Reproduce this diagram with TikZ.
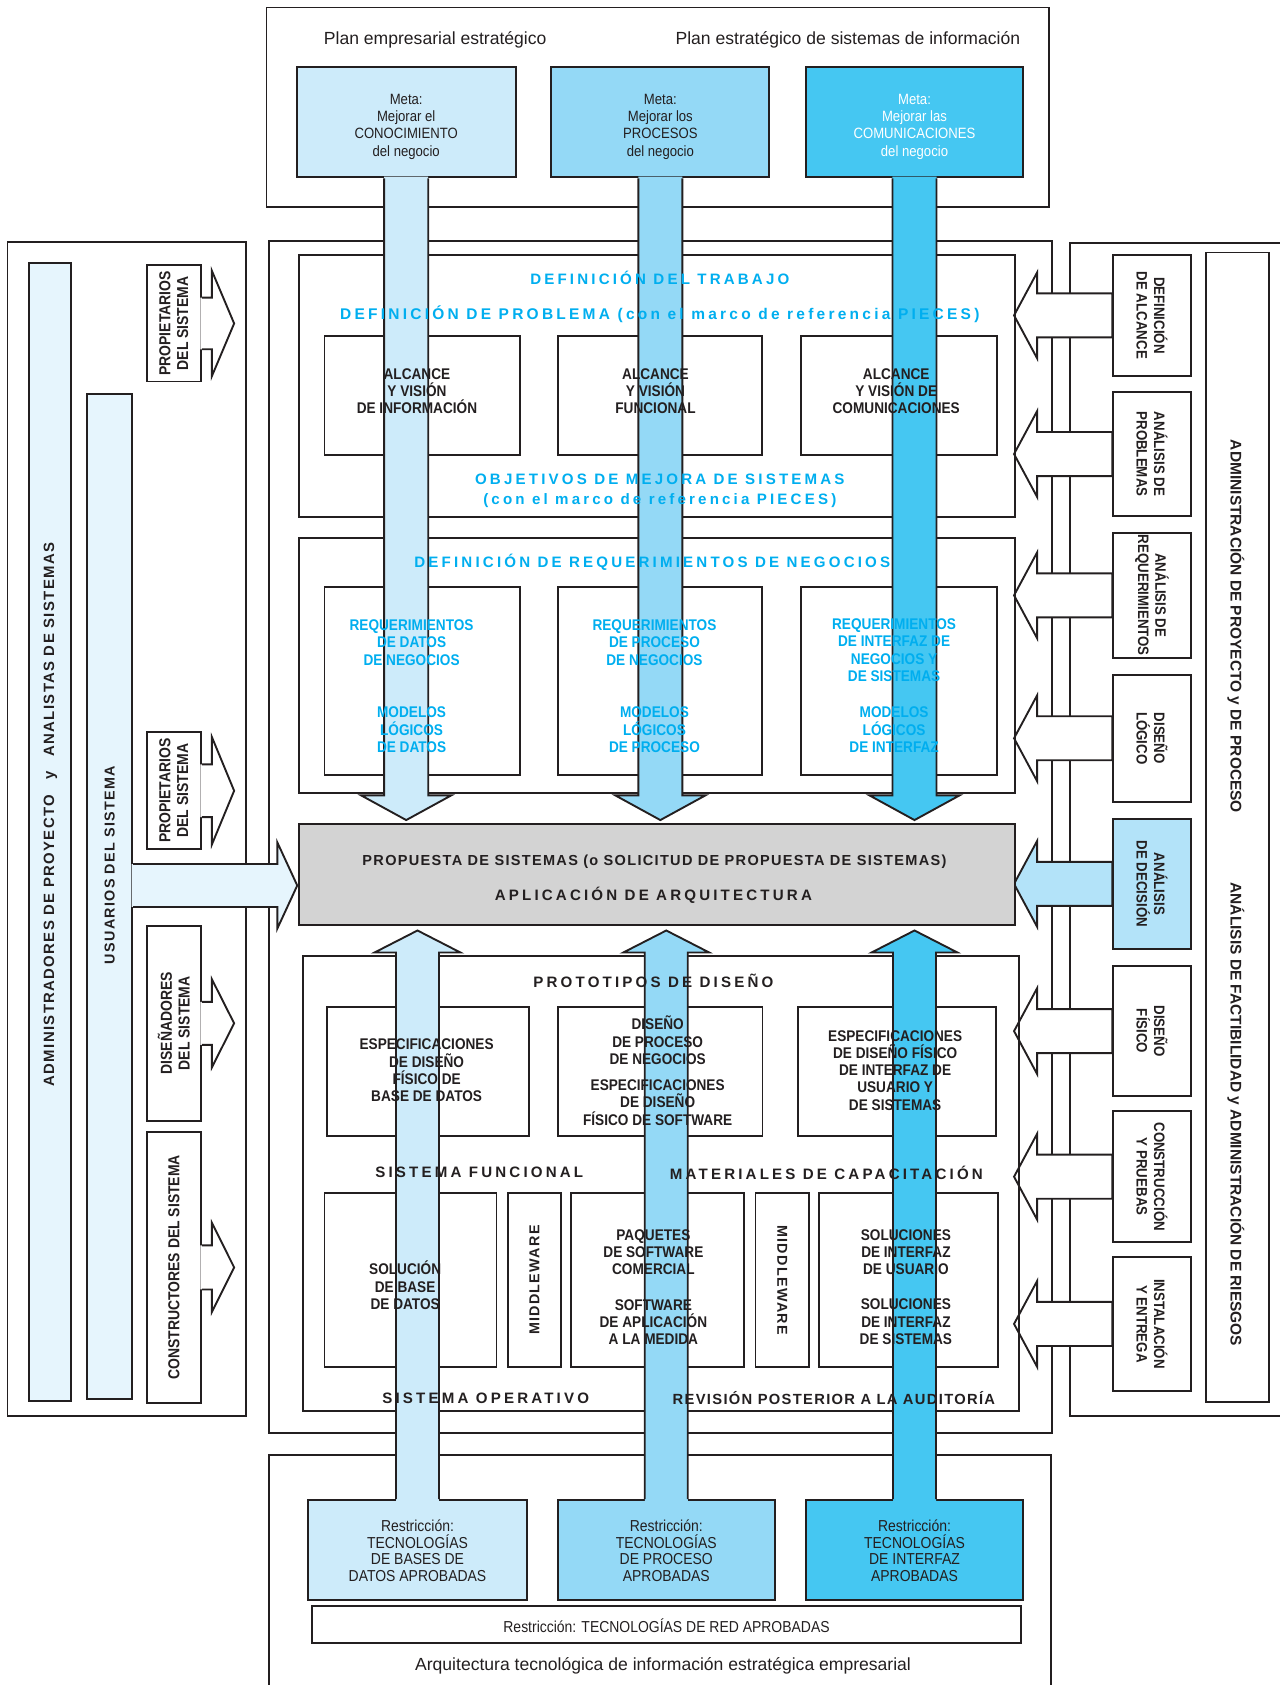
\documentclass[tikz,border=0pt]{standalone}
\usepackage{fontspec}
\setmainfont{Liberation Sans}
\newfontfamily\condfont[FakeStretch=0.88]{Liberation Sans}
\newfontfamily\trackfont[LetterSpace=21]{Liberation Sans}
\newfontfamily\loosefont[LetterSpace=9]{Liberation Sans}
\usetikzlibrary{calc,fit}
\definecolor{GoalLight}{HTML}{CDEBFA}
\definecolor{GoalMid}{HTML}{94D9F6}
\definecolor{GoalDark}{HTML}{45C7F2}
\definecolor{PiecesCyan}{HTML}{00AEEF}
\definecolor{BarTint}{HTML}{E6F5FD}
\definecolor{DecisionTint}{HTML}{B3E3F9}
\definecolor{ProposalGray}{HTML}{D3D3D3}
\definecolor{InkBlack}{HTML}{231F20}

\begin{document}
\begin{tikzpicture}[
    x=0.02cm, y=-0.02cm,
    line width=1pt,
    color=InkBlack,
    frame/.style={draw=InkBlack, line width=1pt, inner sep=0pt},
    plaintxt/.style={font=\fontsize{9.3}{11}\selectfont},
    goaltxt/.style={align=center, font=\condfont\fontsize{7.9}{9.1}\selectfont},
    limittxt/.style={align=center, font=\condfont\fontsize{8.4}{8.9}\selectfont},
    boxtxt/.style={align=center, font=\condfont\bfseries\fontsize{8.2}{9.1}\selectfont},
    reqtxt/.style={boxtxt, text=PiecesCyan},
    tracked/.style={font=\trackfont\bfseries\fontsize{8}{9.5}\selectfont},
    trackedcyan/.style={tracked, text=PiecesCyan},
    loosetitle/.style={font=\loosefont\bfseries\fontsize{7.8}{9.5}\selectfont},
    sidetxt/.style={align=center, font=\condfont\bfseries\fontsize{8}{9.2}\selectfont},
    mgmttxt/.style={font=\bfseries\fontsize{8.2}{9.5}\selectfont},
    loosetxt/.style={font=\loosefont\bfseries\fontsize{7.6}{9}\selectfont}
]
\useasboundingbox (0,0) rectangle (1191,1568);

% strategic plans and goals
\node[frame, fit={(248,7) (976,193)}] (plan) {};
\node[plaintxt] (bizplan) at (405,37) {Plan empresarial estratégico};
\node[plaintxt] (isplan) at (789,37) {Plan estratégico de sistemas de información};
\node[frame, fill=GoalLight, fit={(276,62) (480,165)}] (goal1) {};
\node[frame, fill=GoalMid, fit={(513,62) (716,165)}] (goal2) {};
\node[frame, fill=GoalDark, fit={(750,62) (952,165)}] (goal3) {};
\node[goaltxt] (goal1text) at ($(goal1)+(0,4.5)$) {Meta:\\Mejorar el\\CONOCIMIENTO\\del negocio};
\node[goaltxt] (goal2text) at ($(goal2)+(0,4.5)$) {Meta:\\Mejorar los\\PROCESOS\\del negocio};
\node[goaltxt, text=white] (goal3text) at ($(goal3)+(0,4.5)$) {Meta:\\Mejorar las\\COMUNICACIONES\\del negocio};

% outer frames
\node[frame, fit={(250,224) (978.6,1333.6)}] (work) {};
\node[frame, fit={(7,225.5) (229,1317.6)}] (people) {};
\draw (1200,225.8) -| (995.6,1317.6) -- (1200,1317.6);
\draw (250,1580) |- (978,1353.9) -- (978,1580);

% technology constraints
\node[frame, fill=GoalLight, fit={(287,1396) (490,1489)}] (limit1) {};
\node[frame, fill=GoalMid, fit={(519,1396) (721,1489)}] (limit2) {};
\node[frame, fill=GoalDark, fit={(750,1396) (952,1489)}] (limit3) {};
\node[limittxt] (limit1text) at ($(limit1)+(0,0.5)$) {Restricción:\\TECNOLOGÍAS\\DE BASES DE\\DATOS APROBADAS};
\node[limittxt] (limit2text) at ($(limit2)+(0,0.5)$) {Restricción:\\TECNOLOGÍAS\\DE PROCESO\\APROBADAS};
\node[limittxt] (limit3text) at ($(limit3)+(0,0.5)$) {Restricción:\\TECNOLOGÍAS\\DE INTERFAZ\\APROBADAS};
\node[frame, fit={(290,1494.5) (950.5,1529)}] (network) {};
\node[limittxt] (networktext) at ($(network)+(0,1)$) {Restricción: TECNOLOGÍAS DE RED APROBADAS};
\node[plaintxt] (techarch) at (617,1550) {Arquitectura tecnológica de información estratégica empresarial};

% people on the left
\node[frame, fill=BarTint, fit={(27.3,245) (65.8,1304)}] (leaders) {};
\node[loosetxt, font=\loosefont\bfseries\fontsize{7.9}{9}\selectfont, rotate=90] (leaderstext) at (47,758)
    {ADMINISTRADORES DE PROYECTO\hspace{8pt}y\hspace{8pt}ANALISTAS DE SISTEMAS};
\node[frame, fill=BarTint, fit={(81.3,367) (123,1302)}] (users) {};

\foreach \n/\ya/\yb/\s/\h/\lbl in {
    owners1/247/355/24/49/{PROPIETARIOS\\DEL SISTEMA},
    owners2/681.4/790.3/24.5/50/{PROPIETARIOS\\DEL SISTEMA},
    designers/861.7/1042.8/20/41/{DISEÑADORES\\DEL SISTEMA},
    builders/1053/1305.8/20.5/41.5/{CONSTRUCTORES DEL SISTEMA}} {
    \node[frame, fill=white, fit={(136.5,\ya) (187,\yb)}] (\n) {};
    \node[sidetxt, font=\condfont\bfseries\fontsize{8.4}{9.4}\selectfont, rotate=90] (\n text) at (\n) {\lbl};
    \fill[white] ($(\n.east)+(-1.5,-\s)$) -- ($(\n.east)+(9.3,-\s)$) -- ($(\n.east)+(9.3,-\h)$) -- ($(\n.east)+(30,0)$)
        -- ($(\n.east)+(9.3,\h)$) -- ($(\n.east)+(9.3,\s)$) -- ($(\n.east)+(-1.5,\s)$) -- cycle;
    \draw ($(\n.east)+(0,-\s)$) -- ($(\n.east)+(9.3,-\s)$) -- ($(\n.east)+(9.3,-\h)$) -- ($(\n.east)+(30,0)$)
        -- ($(\n.east)+(9.3,\h)$) -- ($(\n.east)+(9.3,\s)$) -- ($(\n.east)+(0,\s)$);
}

% management on the right
\node[frame, fit={(1122,235) (1180.5,1305)}] (mgmt) {};
\node[mgmttxt, rotate=-90] (mgmt1) at (1150,583) {ADMINISTRACIÓN DE PROYECTO y DE PROCESO};
\node[mgmttxt, rotate=-90] (mgmt2) at (1150,1037) {ANÁLISIS DE FACTIBILIDAD y ADMINISTRACIÓN DE RIESGOS};

\foreach \n/\ya/\yb/\tint/\lbl in {
    scopedef/237/350/white/{DEFINICIÓN\\DE ALCANCE},
    problems/365/480/white/{ANÁLISIS DE\\PROBLEMAS},
    reqdef/496/612/white/{ANÁLISIS DE\\REQUERIMIENTOS},
    logical/628/746/white/{DISEÑO\\LÓGICO},
    decision/762/883/DecisionTint/{ANÁLISIS\\DE DECISIÓN},
    physical/899/1020/white/{DISEÑO\\FÍSICO},
    building/1034/1156/white/{CONSTRUCCIÓN\\Y PRUEBAS},
    install/1170/1294/white/{INSTALACIÓN\\Y ENTREGA}} {
    \node[frame, fill=\tint, fit={(1036,\ya) (1108,\yb)}] (\n) {};
    \node[sidetxt, rotate=-90] (\n text) at (\n) {\lbl};
    \draw[fill=\tint] ($(\n.west)+(0,-20.5)$) -- ($(\n.west)+(-70,-20.5)$) -- ($(\n.west)+(-70,-40)$) -- ($(\n.west)+(-91.5,0)$)
        -- ($(\n.west)+(-70,40)$) -- ($(\n.west)+(-70,20.5)$) -- ($(\n.west)+(0,20.5)$) -- cycle;
}

% middle frames
\node[frame, fit={(278,237) (944.5,481)}] (scope) {};
\node[frame, fit={(302,313) (484,423)}] (vision1) {};
\node[frame, fit={(519,313) (709,423)}] (vision2) {};
\node[frame, fit={(745,313) (928,423)}] (vision3) {};
\node[frame, fit={(278,501) (944.5,738)}] (reqs) {};
\node[frame, fit={(302,546) (484,721)}] (req1) {};
\node[frame, fit={(519,546) (709,721)}] (req2) {};
\node[frame, fit={(745,546) (928,721)}] (req3) {};
\node[frame, fit={(282,890) (948,1313)}] (proto) {};
\node[frame, fit={(304,937) (492,1057)}] (spec1) {};
\node[frame, fit={(519,937) (709.5,1057)}] (spec2) {};
\node[frame, fit={(742.5,937) (927,1057)}] (spec3) {};
\node[frame, fit={(302,1110.5) (462,1272)}] (build1) {};
\node[frame, fit={(472.5,1110.5) (522,1272)}] (mware1) {};
\node[frame, fit={(531.5,1110.5) (692.5,1272)}] (build2) {};
\node[frame, fit={(703,1110.5) (753,1272)}] (mware2) {};
\node[frame, fit={(762.5,1110.5) (928.5,1272)}] (build3) {};

\node[frame, fill=ProposalGray, fit={(278,767) (944.5,861)}] (prop) {};
\node[loosetitle, font=\loosefont\bfseries\fontsize{7.7}{9}\selectfont] (proptitle) at (609,802)
    {PROPUESTA DE SISTEMAS (o SOLICITUD DE PROPUESTA DE SISTEMAS)};
\node[tracked] (archtitle) at (608,833) {APLICACIÓN DE ARQUITECTURA};

% users feed the proposal
\coordinate (usertip) at ($(prop.west)+(0,10)$);
\coordinate (userbase) at (users.east |- usertip);
\fill[BarTint] ($(userbase)+(-1.5,-20)$) -- ($(usertip)+(-19,-20)$) -- ($(usertip)+(-19,-40)$) -- ($(usertip)+(-0.5,0)$)
    -- ($(usertip)+(-19,40)$) -- ($(usertip)+(-19,20)$) -- ($(userbase)+(-1.5,20)$) -- cycle;
\draw ($(userbase)+(0,-20)$) -- ($(usertip)+(-19,-20)$) -- ($(usertip)+(-19,-40)$) -- ($(usertip)+(-0.5,0)$)
    -- ($(usertip)+(-19,40)$) -- ($(usertip)+(-19,20)$) -- ($(userbase)+(0,20)$);
\node[loosetxt, rotate=90] (userstext) at (102,805) {USUARIOS DEL SISTEMA};

% goal stems down to the proposal
\foreach \g/\c in {goal1/GoalLight, goal2/GoalMid, goal3/GoalDark} {
    \coordinate (\g foot) at (\g.south |- prop.north);
    \fill[\c] ($(\g.south)+(-20.5,-1.5)$) -- ($(\g foot)+(-20.5,-26)$) -- ($(\g foot)+(-42,-26)$) -- ($(\g foot)+(0,-3)$)
        -- ($(\g foot)+(42,-26)$) -- ($(\g foot)+(20.5,-26)$) -- ($(\g.south)+(20.5,-1.5)$) -- cycle;
    \draw ($(\g.south)+(-20.5,0)$) -- ($(\g foot)+(-20.5,-26)$) -- ($(\g foot)+(-42,-26)$) -- ($(\g foot)+(0,-3)$)
        -- ($(\g foot)+(42,-26)$) -- ($(\g foot)+(20.5,-26)$) -- ($(\g.south)+(20.5,0)$);
}
% constraint stems up to the proposal
\foreach \t/\c in {limit1/GoalLight, limit2/GoalMid, limit3/GoalDark} {
    \coordinate (\t head) at (\t.north |- prop.south);
    \fill[\c] ($(\t.north)+(-20,1.5)$) -- ($(\t head)+(-20,24.5)$) -- ($(\t head)+(-40,24.5)$) -- ($(\t head)+(0,4)$)
        -- ($(\t head)+(40,24.5)$) -- ($(\t head)+(20,24.5)$) -- ($(\t.north)+(20,1.5)$) -- cycle;
    \draw ($(\t.north)+(-20,0)$) -- ($(\t head)+(-20,24.5)$) -- ($(\t head)+(-40,24.5)$) -- ($(\t head)+(0,4)$)
        -- ($(\t head)+(40,24.5)$) -- ($(\t head)+(20,24.5)$) -- ($(\t.north)+(20,0)$);
}

% texts over the stems
\node[trackedcyan] (worktitle) at (614,259) {DEFINICIÓN DEL TRABAJO};
\node[trackedcyan, font=\trackfont\bfseries\fontsize{8.2}{9.5}\selectfont] (probtitle) at (614,292) {DEFINICIÓN DE PROBLEMA (con el marco de referencia PIECES)};
\node[boxtxt] (vision1text) at (388,364) {ALCANCE\\Y VISIÓN\\DE INFORMACIÓN};
\node[boxtxt] (vision2text) at (610,364) {ALCANCE\\Y VISIÓN\\FUNCIONAL};
\node[boxtxt] (vision3text) at (834,364) {ALCANCE\\Y VISIÓN DE\\COMUNICACIONES};
\node[trackedcyan] (aimtitle) at (614,446) {OBJETIVOS DE MEJORA DE SISTEMAS};
\node[trackedcyan] (aimnote) at (614,466) {(con el marco de referencia PIECES)};

\node[trackedcyan] (reqtitle) at (607,523) {DEFINICIÓN DE REQUERIMIENTOS DE NEGOCIOS};
\node[reqtxt] (req1a) at (383,598) {REQUERIMIENTOS\\DE DATOS\\DE NEGOCIOS};
\node[reqtxt] (req1b) at (383,679) {MODELOS\\LÓGICOS\\DE DATOS};
\node[reqtxt] (req2a) at (609,598) {REQUERIMIENTOS\\DE PROCESO\\DE NEGOCIOS};
\node[reqtxt] (req2b) at (609,679) {MODELOS\\LÓGICOS\\DE PROCESO};
\node[reqtxt] (req3a) at (832,605) {REQUERIMIENTOS\\DE INTERFAZ DE\\NEGOCIOS Y\\DE SISTEMAS};
\node[reqtxt] (req3b) at (832,679) {MODELOS\\LÓGICOS\\DE INTERFAZ};

\node[tracked] (prototitle) at (608,913) {PROTOTIPOS DE DISEÑO};
\node[boxtxt] (spec1text) at (397,996) {ESPECIFICACIONES\\DE DISEÑO\\FÍSICO DE\\BASE DE DATOS};
\node[boxtxt] (spec2a) at (612,968) {DISEÑO\\DE PROCESO\\DE NEGOCIOS};
\node[boxtxt] (spec2b) at (612,1026) {ESPECIFICACIONES\\DE DISEÑO\\FÍSICO DE SOFTWARE};
\node[boxtxt] (spec3text) at (833,996) {ESPECIFICACIONES\\DE DISEÑO FÍSICO\\DE INTERFAZ DE\\USUARIO Y\\DE SISTEMAS};
\node[tracked] (functitle) at (446,1091) {SISTEMA FUNCIONAL};
\node[tracked] (traintitle) at (769,1091) {MATERIALES DE CAPACITACIÓN};
\node[boxtxt] (build1text) at (377,1196) {SOLUCIÓN\\DE BASE\\DE DATOS};
\node[loosetxt, rotate=90] (mware1text) at (mware1) {MIDDLEWARE};
\node[boxtxt] (build2a) at (608,1165) {PAQUETES\\DE SOFTWARE\\COMERCIAL};
\node[boxtxt] (build2b) at (608,1230) {SOFTWARE\\DE APLICACIÓN\\A LA MEDIDA};
\node[loosetxt, rotate=-90] (mware2text) at (mware2) {MIDDLEWARE};
\node[boxtxt] (build3a) at (843,1165) {SOLUCIONES\\DE INTERFAZ\\DE USUARIO};
\node[boxtxt] (build3b) at (843,1230) {SOLUCIONES\\DE INTERFAZ\\DE SISTEMAS};
\node[tracked] (ostitle) at (452,1301) {SISTEMA OPERATIVO};
\node[loosetitle] (audittitle) at (776,1301) {REVISIÓN POSTERIOR A LA AUDITORÍA};

\end{tikzpicture}
\end{document}
